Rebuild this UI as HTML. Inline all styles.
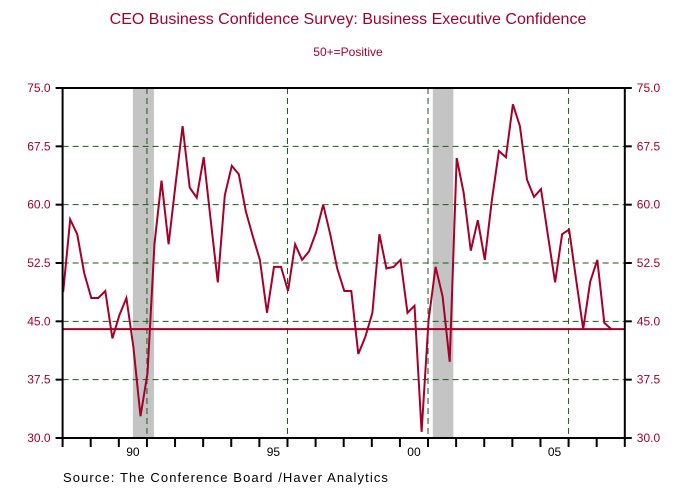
<!DOCTYPE html>
<html><head><meta charset="utf-8"><style>
body{margin:0;background:#fff;}
svg{display:block;font-family:"Liberation Sans",Arial,sans-serif;}
</style></head><body>
<svg width="696" height="494" viewBox="0 0 696 494">
<g id="root"></g>
</svg>
<script>
const yTickValues=[30,37.5,45,52.5,60,67.5,75];
const yTickLabels=["30.0","37.5","45.0","52.5","60.0","67.5","75.0"];
const xYearLabels=["90","95","00","05"];
const xYearLabelYears=[1990,1995,2000,2005];
const recessionStarts=[1990.5,2001.17];
const recessionEnds=[1991.25,2001.9];
const seriesStart=1988.02;
const confidence=[48.8,58.1,56.2,51.2,48.0,48.0,48.9,42.8,45.8,48.0,41.7,32.8,38.3,55.0,63.1,54.9,62.7,70.1,62.2,60.9,66.1,58.0,50.0,61.2,65.0,63.9,59.1,55.9,52.9,46.1,52.0,52.0,48.9,54.9,52.9,54.0,56.5,60.0,56.2,51.8,48.9,48.9,40.8,43.0,46.1,56.2,51.8,52.0,52.9,46.1,47.0,30.8,45.2,52.0,48.2,39.8,66.0,61.5,54.1,58.0,52.9,60.5,66.9,66.1,72.9,70.1,63.2,61.0,62.0,55.9,50.0,56.2,56.8,50.3,44.0,50.1,52.9,44.8,44.0];
const refLevel=[44];

const L=62.6,R=624.8,T=88,B=438,X0=1988,X1=2008;
const x=t=>L+(t-X0)/(X1-X0)*(R-L);
const y=v=>B-(v-30)/45*(B-T);
const root=document.getElementById('root');
const NS="http://www.w3.org/2000/svg";
function mk(tag,attrs,parent){const e=document.createElementNS(NS,tag);for(const k in attrs)e.setAttribute(k,attrs[k]);(parent||root).appendChild(e);return e;}

let t=mk('text',{x:348,y:24,'text-anchor':'middle','font-size':16,fill:'#a5002a'});
t.textContent='CEO Business Confidence Survey: Business Executive Confidence';


t=mk('text',{x:348,y:56,'text-anchor':'middle','font-size':12,fill:'#a5002a'});
t.textContent='50+=Positive';



for(let i=0;i<recessionStarts.length;i++){
 const r=mk('rect',{x:x(recessionStarts[i]),y:T,width:x(recessionEnds[i])-x(recessionStarts[i]),height:B-T,fill:'#c4c4c4'});
 
 
}
yTickValues.forEach((v,i)=>{
 if(v>30&&v<75){const g=mk('line',{x1:L,x2:R,y1:y(v),y2:y(v),stroke:'#1a5a1a','stroke-width':1,'stroke-dasharray':'6,4'});
 
 }
 const a=mk('line',{x1:L-7,x2:L,y1:y(v),y2:y(v),stroke:'#000','stroke-width':2});
 
 
 const b=mk('line',{x1:R,x2:R+7,y1:y(v),y2:y(v),stroke:'#000','stroke-width':2});
 
 
 let l=mk('text',{x:L-12,y:y(v)+4,'text-anchor':'end','font-size':12,fill:'#a5002a'});
 l.textContent=yTickLabels[i];
 
 
 l=mk('text',{x:R+12,y:y(v)+4,'text-anchor':'start','font-size':12,fill:'#a5002a'});
 l.textContent=yTickLabels[i];
 
 
});
xYearLabelYears.forEach((yr,i)=>{
 const g=mk('line',{x1:x(yr+1),x2:x(yr+1),y1:T,y2:B,stroke:'#1a5a1a','stroke-width':1,'stroke-dasharray':'6,4'});
 
 
 const l=mk('text',{x:x(yr+0.5),y:456,'text-anchor':'middle','font-size':12,fill:'#000'});
 l.textContent=xYearLabels[i];
 
 
});
for(let yr=X0;yr<=X1;yr++){
 const k=mk('line',{x1:x(yr),x2:x(yr),y1:B,y2:B+9,stroke:'#000','stroke-width':2});
 
 
}
const rl=mk('line',{x1:L,x2:R,y1:y(refLevel[0]),y2:y(refLevel[0]),stroke:'#a5002a','stroke-width':2});


const pts=confidence.map((v,i)=>x(seriesStart+i/4).toFixed(1)+','+y(v).toFixed(1)).join(' ');
const pl=mk('polyline',{points:pts,fill:'none',stroke:'#a5002a','stroke-width':2,'stroke-linejoin':'miter'});


const fr=mk('rect',{x:L,y:T,width:R-L,height:B-T,fill:'none',stroke:'#000','stroke-width':2});


t=mk('text',{x:63,y:482,'font-size':13,fill:'#000','letter-spacing':'1.1'});
t.textContent='Source:  The Conference Board /Haver Analytics';


</script>
</body></html>
